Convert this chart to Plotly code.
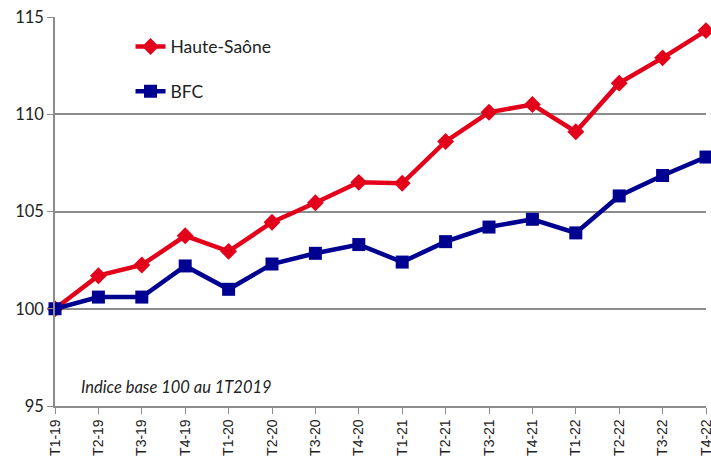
import plotly.graph_objects as go

quarters = ["T1-19", "T2-19", "T3-19", "T4-19", "T1-20", "T2-20", "T3-20", "T4-20",
            "T1-21", "T2-21", "T3-21", "T4-21", "T1-22", "T2-22", "T3-22", "T4-22"]
haute_saone = [100.0, 101.7, 102.25, 103.75, 102.95, 104.45, 105.45, 106.5,
               106.45, 108.6, 110.1, 110.5, 109.1, 111.6, 112.9, 114.3]
bfc = [100.0, 100.6, 100.6, 102.2, 101.0, 102.3, 102.85, 103.3,
       102.4, 103.45, 104.2, 104.6, 103.9, 105.8, 106.85, 107.8]

RED = "#E2001A"
BLUE = "#000091"
GRID = "#8c8c8c"

fig = go.Figure()
fig.add_trace(go.Scatter(
    x=quarters, y=haute_saone, name="Haute-Saône", mode="lines+markers",
    line=dict(color=RED, width=4.5), marker=dict(symbol="diamond", size=13, color=RED),
    cliponaxis=False, legendgroup="a",
))
fig.add_trace(go.Scatter(
    x=quarters, y=bfc, name="BFC", mode="lines+markers",
    line=dict(color=BLUE, width=4.5), marker=dict(symbol="square", size=13, color=BLUE),
    cliponaxis=False, legendgroup="b",
))

fig.add_annotation(
    text="<i>Indice base 100 au 1T2019</i>", xref="paper", yref="paper",
    x=0.187, y=0.049, xanchor="center", yanchor="middle", showarrow=False,
    font=dict(family="Lato, sans-serif", size=16.5, color="#222"),
)

fig.update_layout(
    width=711, height=462,
    margin=dict(l=55, r=5, t=17, b=56),
    paper_bgcolor="white", plot_bgcolor="white",
    font=dict(family="Lato, sans-serif", color="#222"),
    showlegend=True,
    legend=dict(
        x=0.116, y=0.970, xanchor="left", yanchor="top",
        font=dict(size=17.5, color="#222"), tracegroupgap=19,
        bgcolor="rgba(0,0,0,0)",
    ),
    xaxis=dict(
        type="category", range=[0, 15], tickangle=-90, automargin=False,
        showline=True, linecolor=GRID, linewidth=1.5,
        ticks="outside", ticklen=6, tickcolor=GRID,
        showgrid=False, zeroline=False,
        tickfont=dict(family="Liberation Sans, Arial, sans-serif", size=14, color="#222"),
    ),
    yaxis=dict(
        range=[95, 115], dtick=5, automargin=False,
        showline=True, linecolor=GRID, linewidth=1.5,
        ticks="outside", ticklen=6, tickcolor=GRID,
        showgrid=True, gridcolor=GRID, gridwidth=1.5, zeroline=False,
        tickfont=dict(size=16.5, color="#222"),
    ),
)

# page body has a default 8px margin; drop it so the figure fills the window
fig.write_html(
    "out.html",
    config={"displayModeBar": False},
    post_script="document.body.style.margin='0';document.body.style.overflow='hidden';",
)
